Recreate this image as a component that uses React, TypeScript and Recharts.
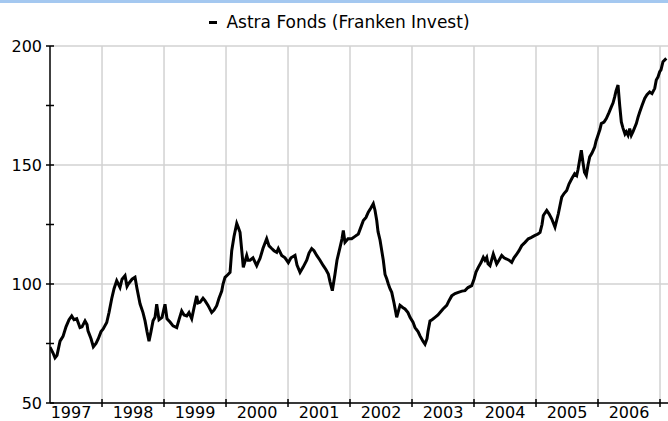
import { CartesianGrid, Legend, Line, LineChart, XAxis, YAxis } from "recharts";

const seriesName = "Astra Fonds (Franken Invest)";

// time as decimal years, value as fund price
const time = [
  1997.161, 1997.21, 1997.242, 1997.274, 1997.323, 1997.371, 1997.419, 1997.468, 1997.511, 1997.548,
  1997.592, 1997.645, 1997.677, 1997.726, 1997.758, 1997.774, 1997.823, 1997.86, 1997.903, 1997.94,
  1997.984, 1998.016, 1998.076, 1998.113, 1998.156, 1998.194, 1998.237, 1998.29, 1998.323, 1998.371,
  1998.403, 1998.424, 1998.484, 1998.532, 1998.565, 1998.613, 1998.661, 1998.694, 1998.726, 1998.758,
  1998.79, 1998.823, 1998.855, 1998.882, 1998.919, 1998.968, 1999.016, 1999.048, 1999.097, 1999.145,
  1999.205, 1999.242, 1999.285, 1999.323, 1999.366, 1999.403, 1999.447, 1999.484, 1999.527, 1999.548,
  1999.581, 1999.629, 1999.661, 1999.71, 1999.769, 1999.806, 1999.85, 1999.887, 1999.931, 1999.952,
  1999.984, 2000.032, 2000.065, 2000.092, 2000.129, 2000.173, 2000.194, 2000.226, 2000.258, 2000.279,
  2000.334, 2000.355, 2000.387, 2000.435, 2000.495, 2000.516, 2000.548, 2000.597, 2000.656, 2000.694,
  2000.737, 2000.774, 2000.818, 2000.844, 2000.898, 2000.952, 2001.005, 2001.048, 2001.113, 2001.145,
  2001.194, 2001.242, 2001.302, 2001.339, 2001.382, 2001.419, 2001.463, 2001.516, 2001.569, 2001.613,
  2001.65, 2001.677, 2001.715, 2001.758, 2001.79, 2001.839, 2001.871, 2001.892, 2001.919, 2001.968,
  2002.027, 2002.081, 2002.134, 2002.177, 2002.215, 2002.258, 2002.295, 2002.339, 2002.376, 2002.403,
  2002.431, 2002.452, 2002.484, 2002.537, 2002.565, 2002.592, 2002.618, 2002.645, 2002.673, 2002.71,
  2002.753, 2002.774, 2002.806, 2002.855, 2002.887, 2002.935, 2002.968, 2003.016, 2003.048, 2003.097,
  2003.129, 2003.177, 2003.21, 2003.242, 2003.258, 2003.29, 2003.323, 2003.371, 2003.419, 2003.452,
  2003.5, 2003.56, 2003.597, 2003.64, 2003.694, 2003.747, 2003.806, 2003.855, 2003.903, 2003.963,
  2004.0, 2004.032, 2004.069, 2004.113, 2004.15, 2004.177, 2004.205, 2004.226, 2004.258, 2004.311,
  2004.366, 2004.403, 2004.447, 2004.484, 2004.527, 2004.565, 2004.608, 2004.645, 2004.689, 2004.726,
  2004.769, 2004.823, 2004.876, 2004.919, 2004.984, 2005.032, 2005.065, 2005.097, 2005.118, 2005.173,
  2005.21, 2005.253, 2005.306, 2005.36, 2005.387, 2005.415, 2005.452, 2005.495, 2005.532, 2005.576,
  2005.624, 2005.656, 2005.677, 2005.71, 2005.731, 2005.758, 2005.782, 2005.811, 2005.839, 2005.866,
  2005.903, 2005.947, 2005.968, 2006.0, 2006.032, 2006.053, 2006.097, 2006.134, 2006.177, 2006.215,
  2006.242, 2006.269, 2006.29, 2006.323, 2006.35, 2006.376, 2006.403, 2006.435, 2006.456, 2006.484,
  2006.511, 2006.537, 2006.565, 2006.618, 2006.645, 2006.673, 2006.71, 2006.753, 2006.79, 2006.834,
  2006.871, 2006.915, 2006.94, 2006.968, 2006.995, 2007.016, 2007.048, 2007.102,
];

const value = [
  73.5, 71, 69, 70, 76, 78, 82, 85, 86.6, 85,
  85.4, 81.7, 82, 84.5, 83, 80.3, 77, 73.6, 75, 77,
  80, 81, 83.8, 88, 93.8, 98, 101.4, 98.6, 102, 103.5,
  99, 100, 102, 102.8, 98, 91.7, 88, 84.5, 80, 76,
  80, 84.5, 86, 91.5, 85, 86, 91.5, 85.4, 84, 82.4,
  81.7, 85, 88.7, 87, 86.6, 88, 85.4, 90, 95, 92,
  92.3, 94, 93, 91, 88, 89, 90.9, 94, 97, 100,
  102.8, 104, 104.9, 114, 120, 125.4, 124, 121.7, 113, 107,
  112, 110, 110, 111, 107.7, 109, 110.7, 115, 119, 116,
  114.9, 114, 113.3, 114.9, 112, 111, 109, 111, 112, 108,
  104.9, 107, 110, 113, 114.9, 114, 112, 110, 107.7, 106,
  104.2, 101, 97.2, 104.2, 110, 115.4, 119, 122.5, 117.5, 119,
  119, 120, 121, 124, 126.7, 128, 130.2, 132, 133.7, 131,
  126.7, 122, 118.5, 110, 104, 102.2, 100, 98, 96.5, 92,
  86, 88, 91, 90, 89.5, 88, 86, 84, 81.7, 80,
  78.2, 76, 74.7, 77, 80, 84.5, 85, 86, 87, 88,
  89.5, 91, 93, 95, 96, 96.5, 97, 97.2, 98.5, 99.3,
  102, 105, 107, 109, 111.2, 110, 111.2, 108.5, 107.7, 112.6,
  108.4, 110, 112, 111, 110.5, 110, 109.1, 111, 112.6, 114,
  116.1, 117.5, 119, 119.5, 120.4, 121, 121.7, 125, 128.8, 130.9,
  129.5, 127.4, 123.9, 129.5, 133, 136.5, 138, 139.3, 142, 144.2,
  146.4, 145.6, 148, 153, 156.2, 151, 147, 145.6, 150, 153.4,
  155, 157.6, 160, 162.5, 165, 167.4, 168, 169.5, 172, 174.4,
  176, 178.6, 181, 183.6, 175.1, 168.1, 165.5, 163, 163.9, 162.5,
  165.3, 162.5, 164, 167.4, 170, 172.3, 175, 178, 179.5, 180.7,
  180, 182.2, 185.7, 187, 189.2, 190, 193.4, 194.8,
];

const yearBoundaries = [1998, 1999, 2000, 2001, 2002, 2003, 2004, 2005, 2006, 2007];
const yearLabels = [1997, 1998, 1999, 2000, 2001, 2002, 2003, 2004, 2005, 2006];
const yTicks = [50, 75, 100, 125, 150, 175, 200];
const yGrid = [50, 100, 150, 200];

const data = time.map((t, i) => ({ t, v: value[i] }));
const xTicks = [...yearBoundaries, ...yearLabels.map((y) => y + 0.5)];

const FONT = "'DejaVu Sans', Verdana, sans-serif";

function XTick({ x, y, payload }: any) {
  const val = payload.value as number;
  if (Number.isInteger(val)) {
    return <line x1={x} x2={x} y1={y - 4} y2={y + 4} stroke="#000" strokeWidth={1.5} />;
  }
  return (
    <text x={x} y={y + 15} textAnchor="middle" fontSize={16} fontFamily={FONT} fill="#000">
      {Math.floor(val)}
    </text>
  );
}

function YTick({ x, y, payload }: any) {
  const val = payload.value as number;
  return (
    <g>
      <line x1={x - 4} x2={x + 4} y1={y} y2={y} stroke="#000" strokeWidth={1.5} />
      {val % 50 === 0 && (
        <text x={x - 8} y={y} dy="0.36em" textAnchor="end" fontSize={16} fontFamily={FONT} fill="#000">
          {val}
        </text>
      )}
    </g>
  );
}

function TitleLegend() {
  return (
    <div
      style={{
        width: 668,
        height: 36,
        display: "flex",
        justifyContent: "center",
        paddingLeft: 11,
        boxSizing: "border-box",
      }}
    >
      <div style={{ display: "flex", alignItems: "center", height: 24, fontSize: 17, fontFamily: FONT, color: "#000" }}>
        <span style={{ display: "inline-block", width: 8, height: 3, background: "#000", marginRight: 9 }} />
        {seriesName}
      </div>
    </div>
  );
}

export default function App() {
  return (
    <div style={{ position: "absolute", left: 0, top: 0, width: 668, height: 421, background: "#fff" }}>
      <div style={{ position: "absolute", left: 0, top: 0, width: 668, height: 3, background: "#a4c8f0", zIndex: 2 }} />
      <LineChart width={668} height={421} data={data} margin={{ top: 10, right: 0, bottom: 0, left: 0 }}>
        <Legend verticalAlign="top" content={<TitleLegend />} />
        <CartesianGrid
          stroke="#d2d2d2"
          strokeWidth={1.5}
          horizontalValues={yGrid}
          verticalValues={yearBoundaries}
        />
        <XAxis
          dataKey="t"
          type="number"
          domain={[1997.161, 2007.129]}
          ticks={xTicks}
          interval={0}
          height={18}
          tickSize={0}
          tickMargin={0}
          tickLine={false}
          tick={<XTick />}
          axisLine={{ stroke: "#000", strokeWidth: 1.5 }}
          allowDataOverflow
        />
        <YAxis
          type="number"
          domain={[50, 200]}
          ticks={yTicks}
          interval={0}
          width={50}
          tickSize={0}
          tickMargin={0}
          tickLine={false}
          tick={<YTick />}
          axisLine={{ stroke: "#000", strokeWidth: 1.5 }}
        />
        <Line
          type="linear"
          dataKey="v"
          stroke="#000"
          strokeWidth={3}
          dot={false}
          isAnimationActive={false}
          legendType="none"
        />
      </LineChart>
    </div>
  );
}
